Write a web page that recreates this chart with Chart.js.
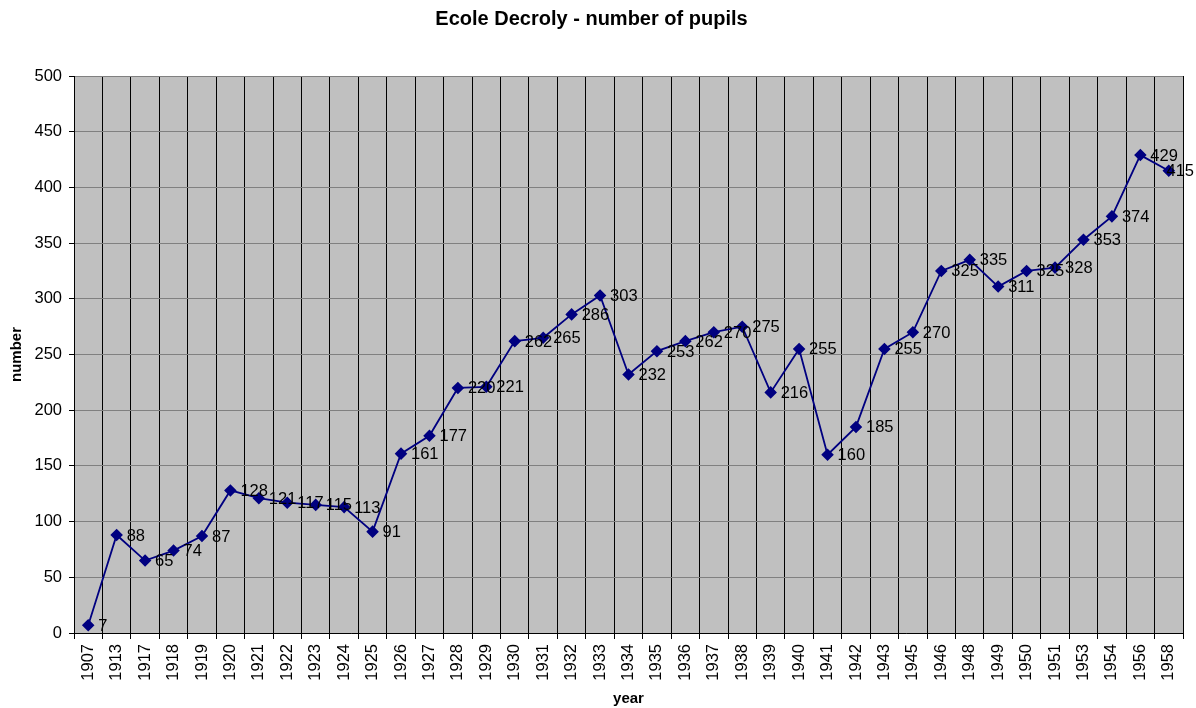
<!DOCTYPE html>
<html>
<head>
<meta charset="utf-8">
<script src="https://cdn.jsdelivr.net/npm/chart.js@4"></script>
<style>
  body { margin: 0; background: #fff; }
  #wrap { width: 1196px; height: 708px; }
</style>
</head>
<body>
<div id="wrap"><canvas id="pupilsChart" width="1196" height="708"></canvas></div>
<script>
const years = ['1907','1913','1917','1918','1919','1920','1921','1922','1923','1924','1925',
  '1926','1927','1928','1929','1930','1931','1932','1933','1934','1935','1936','1937','1938',
  '1939','1940','1941','1942','1943','1945','1946','1948','1949','1950','1951','1953','1954',
  '1956','1958'];
const pupils = [7, 88, 65, 74, 87, 128, 121, 117, 115, 113, 91,
  161, 177, 220, 221, 262, 265, 286, 303, 232, 253, 262, 270, 275,
  216, 255, 160, 185, 255, 270, 325, 335, 311, 325, 328, 353, 374,
  429, 415];
const yTicks = { min: 0, max: 500, step: 50 };

const fontFamily = '"Liberation Sans", Arial, sans-serif';

// grey plot area like the old Excel charts
const plotBg = {
    id: 'plotBg',
    beforeDraw(chart) {
        const { ctx, chartArea: a } = chart;
        ctx.save();
        ctx.fillStyle = '#c0c0c0';
        ctx.fillRect(a.left, a.top, a.right - a.left, a.bottom - a.top);
        ctx.restore();
    }
};

// value next to each point, pushed back in if it would leave the canvas
const pointLabels = {
    id: 'pointLabels',
    afterDatasetsDraw(chart) {
        const { ctx } = chart;
        const meta = chart.getDatasetMeta(0);
        ctx.save();
        ctx.font = '16.5px ' + fontFamily;
        ctx.fillStyle = '#000';
        ctx.textAlign = 'left';
        ctx.textBaseline = 'middle';
        meta.data.forEach((pt, i) => {
            const txt = String(pupils[i]);
            const w = ctx.measureText(txt).width;
            let x = pt.x + 10;
            if (x + w > chart.width - 2) x = chart.width - 2 - w;
            ctx.fillText(txt, x, pt.y + 1);
        });
        ctx.restore();
    }
};

const ctx = document.getElementById('pupilsChart').getContext('2d');

new Chart(ctx, {
    type: 'line',
    data: {
        labels: years,
        datasets: [{
            label: 'pupils',
            data: pupils,
            borderColor: '#000080',
            backgroundColor: '#000080',
            borderWidth: 1.8,
            pointStyle: 'rectRot',
            pointRadius: 5,
            pointHoverRadius: 5,
            tension: 0,
            fill: false
        }]
    },
    options: {
        responsive: false,
        animation: false,
        layout: { padding: { left: 0, right: 13, top: 0, bottom: 0 } },
        plugins: {
            legend: { display: false },
            tooltip: { enabled: false },
            title: {
                display: true,
                text: 'Ecole Decroly - number of pupils',
                color: '#000',
                font: { family: fontFamily, size: 20, weight: 'bold' },
                padding: { top: 7, bottom: 45 }
            }
        },
        scales: {
            x: {
                offset: true,
                grid: {
                    offset: true,
                    color: '#000',
                    lineWidth: 1,
                    tickLength: 6,
                    drawTicks: true
                },
                border: { color: '#000', width: 1 },
                ticks: {
                    color: '#000',
                    font: { family: fontFamily, size: 16.5 },
                    minRotation: 90,
                    maxRotation: 90,
                    autoSkip: false,
                    padding: 5
                },
                title: {
                    display: true,
                    text: 'year',
                    color: '#000',
                    font: { family: fontFamily, size: 15, weight: 'bold' },
                    padding: { top: 0, bottom: 0 }
                },
                afterFit(scale) { scale.height = 75; }
            },
            y: {
                min: yTicks.min,
                max: yTicks.max,
                grid: {
                    color: '#808080',
                    lineWidth: 1,
                    tickLength: 5,
                    tickColor: '#000'
                },
                border: { color: '#000', width: 1 },
                ticks: {
                    stepSize: yTicks.step,
                    color: '#000',
                    font: { family: fontFamily, size: 16.5 },
                    padding: 7
                },
                title: {
                    display: true,
                    text: 'number',
                    color: '#000',
                    font: { family: fontFamily, size: 15, weight: 'bold' },
                    padding: { top: 8, bottom: 0 }
                },
                afterFit(scale) { scale.width = 74; }
            }
        }
    },
    plugins: [plotBg, pointLabels]
});
</script>
</body>
</html>
